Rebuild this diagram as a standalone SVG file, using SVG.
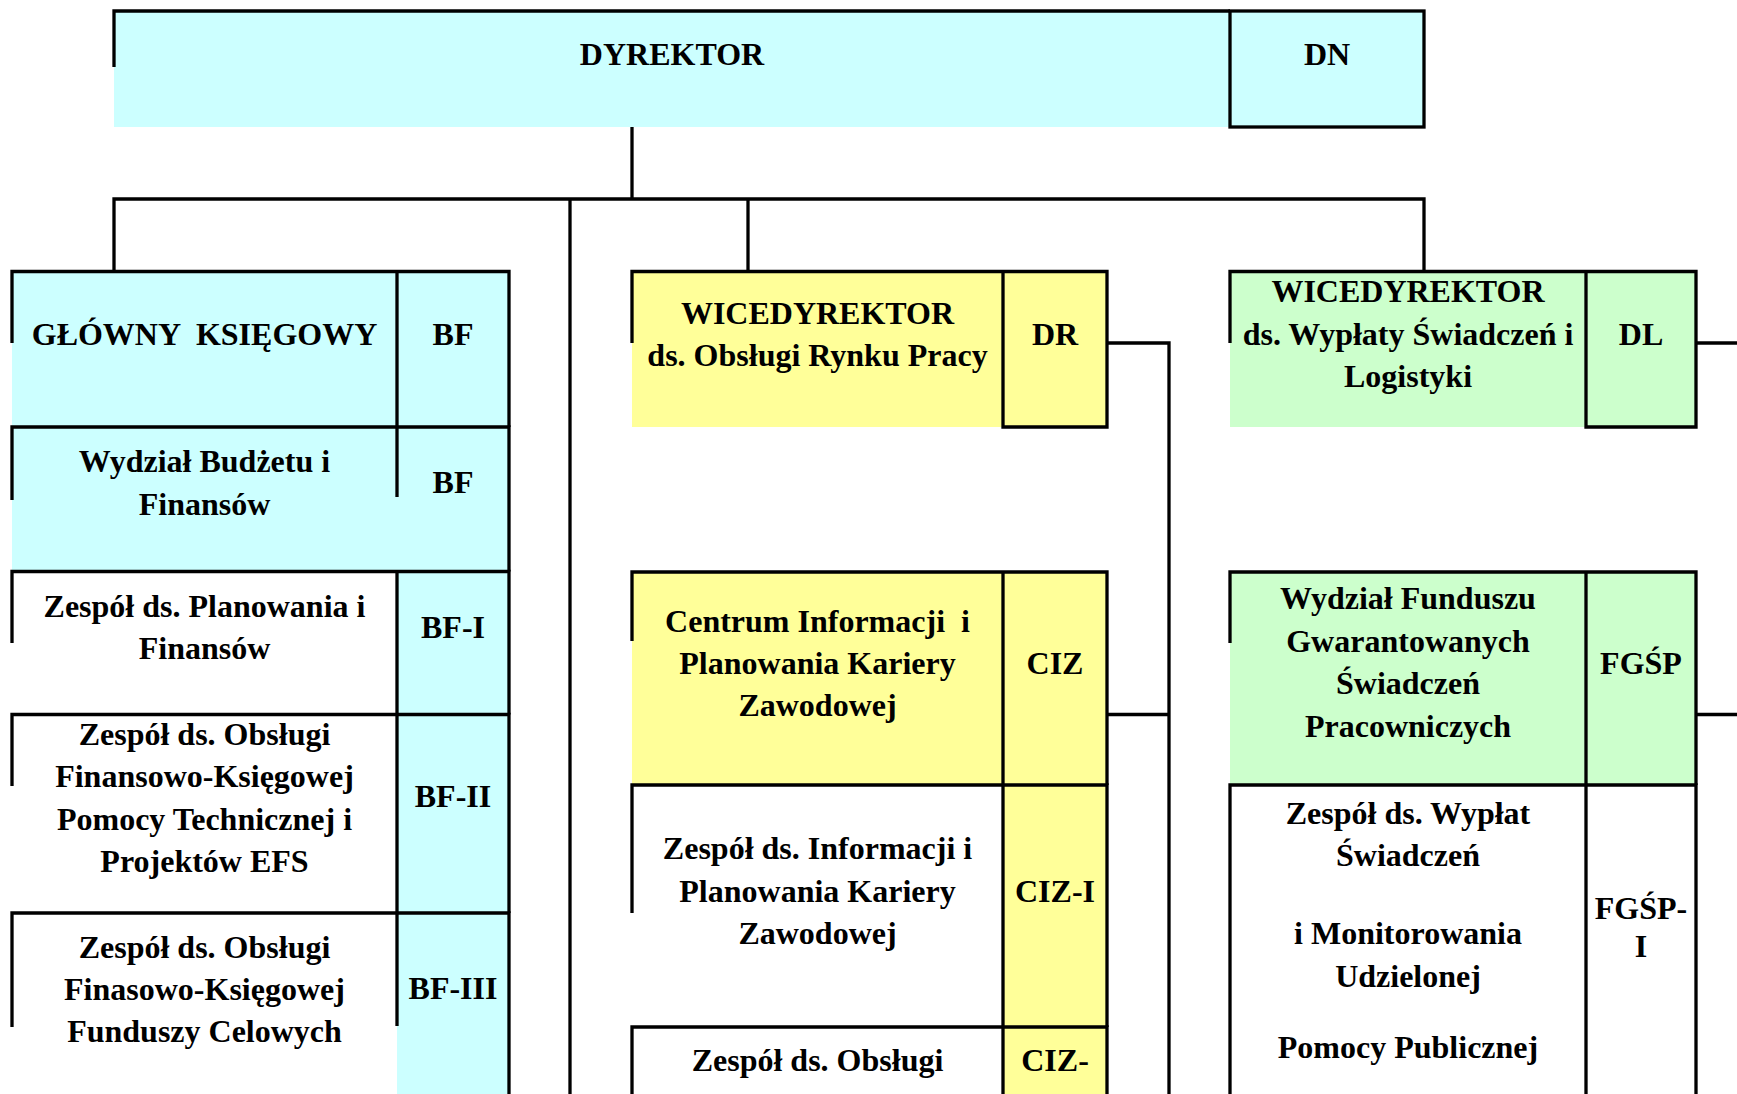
<svg xmlns="http://www.w3.org/2000/svg" width="1737" height="1094" viewBox="0 0 1737 1094">
<style>
.t{font-family:"Liberation Serif","Times New Roman",serif;font-weight:bold;font-size:32px;fill:#000;text-anchor:middle}
.ln{stroke:#000;stroke-width:3.3;fill:none;stroke-linejoin:miter}
.cy{fill:#CCFFFF}
.ye{fill:#FFFF99}
.gr{fill:#CCFFCC}
.wh{fill:#FFFFFF}
</style>
<rect width="1737" height="1094" fill="#FFFFFF"/>

<g id="connectors">
<path class="ln" d="M632 127V199"/>
<path class="ln" d="M114 271V199H1424V271"/>
<path class="ln" d="M570 199V1094"/>
<path class="ln" d="M748 199V271"/>
<path class="ln" d="M1107 343H1169V1094"/>
<path class="ln" d="M1107 714.5H1169"/>
<path class="ln" d="M1696 343H1737"/>
<path class="ln" d="M1696 714.5H1737"/>
</g>

<g id="dyrektor">
<rect class="cy" x="114" y="11" width="1116" height="116"/>
<path class="ln" d="M114 67V11H1230"/>
<text class="t" x="672" y="65">DYREKTOR</text>
</g>
<g id="dn">
<rect class="cy" x="1230" y="11" width="194" height="116"/>
<rect class="ln" x="1230" y="11" width="194" height="116"/>
<text class="t" x="1327" y="65">DN</text>
</g>

<!-- LEFT COLUMN -->
<g id="glowny-ksiegowy">
<rect class="cy" x="12" y="271.5" width="385" height="155.5"/>
<rect class="cy" x="397" y="271.5" width="112" height="155.5"/>
<path class="ln" d="M12 343V271.5H509V427M397 271.5V427"/>
<text class="t" x="204.5" y="345" xml:space="preserve">GŁÓWNY  KSIĘGOWY</text>
<text class="t" x="453" y="345">BF</text>
</g>
<g id="wydzial-budzetu">
<rect class="cy" x="12" y="427" width="385" height="144.5"/>
<rect class="cy" x="397" y="427" width="112" height="144.5"/>
<path class="ln" d="M12 500V427H509V571.5M397 427V497"/>
<text class="t" x="204.5" y="472">Wydział Budżetu i</text>
<text class="t" x="204.5" y="515">Finansów</text>
<text class="t" x="453" y="493">BF</text>
</g>
<g id="zespol-planowania">
<rect class="wh" x="12" y="571.5" width="385" height="143"/>
<rect class="cy" x="397" y="571.5" width="112" height="143"/>
<path class="ln" d="M12 643V571.5H509V714.5M397 571.5V714.5"/>
<text class="t" x="204.5" y="617">Zespół ds. Planowania i</text>
<text class="t" x="204.5" y="659">Finansów</text>
<text class="t" x="453" y="638">BF-I</text>
</g>
<g id="zespol-bf-ii">
<rect class="wh" x="12" y="714.5" width="385" height="198.5"/>
<rect class="cy" x="397" y="714.5" width="112" height="198.5"/>
<path class="ln" d="M12 786V714.5H509V913M397 714.5V913"/>
<text class="t" x="204.5" y="745">Zespół ds. Obsługi</text>
<text class="t" x="204.5" y="787">Finansowo-Księgowej</text>
<text class="t" x="204.5" y="830">Pomocy Technicznej i</text>
<text class="t" x="204.5" y="872">Projektów EFS</text>
<text class="t" x="453" y="807">BF-II</text>
</g>
<g id="zespol-bf-iii">
<rect class="wh" x="12" y="913" width="385" height="181"/>
<rect class="cy" x="397" y="913" width="112" height="181"/>
<path class="ln" d="M12 1027V913H509V1094M397 913V1026"/>
<text class="t" x="204.5" y="958">Zespół ds. Obsługi</text>
<text class="t" x="204.5" y="1000">Finasowo-Księgowej</text>
<text class="t" x="204.5" y="1042">Funduszy Celowych</text>
<text class="t" x="453" y="999">BF-III</text>
</g>

<!-- MIDDLE COLUMN -->
<g id="wicedyrektor-dr">
<rect class="ye" x="632" y="271.5" width="371" height="155.5"/>
<rect class="ye" x="1003" y="271.5" width="104" height="155.5"/>
<path class="ln" d="M632 343V271.5H1107V427H1003V271.5"/>
<text class="t" x="817.5" y="324">WICEDYREKTOR</text>
<text class="t" x="817.5" y="366">ds. Obsługi Rynku Pracy</text>
<text class="t" x="1055" y="345">DR</text>
</g>
<g id="ciz">
<rect class="ye" x="632" y="572" width="371" height="213"/>
<rect class="ye" x="1003" y="572" width="104" height="213"/>
<path class="ln" d="M632 641V572H1107V785M1003 572V785"/>
<text class="t" x="817.5" y="632" xml:space="preserve">Centrum Informacji  i</text>
<text class="t" x="817.5" y="674">Planowania Kariery</text>
<text class="t" x="817.5" y="716">Zawodowej</text>
<text class="t" x="1055" y="674">CIZ</text>
</g>
<g id="ciz-i">
<rect class="wh" x="632" y="785" width="371" height="242"/>
<rect class="ye" x="1003" y="785" width="104" height="242"/>
<path class="ln" d="M632 913V785H1107V1027M1003 785V1027"/>
<text class="t" x="817.5" y="859">Zespół ds. Informacji i</text>
<text class="t" x="817.5" y="902">Planowania Kariery</text>
<text class="t" x="817.5" y="944">Zawodowej</text>
<text class="t" x="1055" y="902">CIZ-I</text>
</g>
<g id="ciz-ii">
<rect class="wh" x="632" y="1027" width="371" height="67"/>
<rect class="ye" x="1003" y="1027" width="104" height="67"/>
<path class="ln" d="M632 1094V1027H1107V1094M1003 1027V1094"/>
<text class="t" x="817.5" y="1071">Zespół ds. Obsługi</text>
<text class="t" x="1055" y="1071">CIZ-</text>
</g>

<!-- RIGHT COLUMN -->
<g id="wicedyrektor-dl">
<rect class="gr" x="1230" y="271.5" width="356" height="155.5"/>
<rect class="gr" x="1586" y="271.5" width="110" height="155.5"/>
<path class="ln" d="M1230 343V271.5H1696V427H1586V271.5"/>
<text class="t" x="1408" y="301.5">WICEDYREKTOR</text>
<text class="t" x="1408" y="344.5">ds. Wypłaty Świadczeń i</text>
<text class="t" x="1408" y="387">Logistyki</text>
<text class="t" x="1641" y="345">DL</text>
</g>
<g id="fgsp">
<rect class="gr" x="1230" y="572" width="356" height="213"/>
<rect class="gr" x="1586" y="572" width="110" height="213"/>
<path class="ln" d="M1230 643V572H1696V785M1586 572V785"/>
<text class="t" x="1408" y="609">Wydział Funduszu</text>
<text class="t" x="1408" y="652">Gwarantowanych</text>
<text class="t" x="1408" y="694">Świadczeń</text>
<text class="t" x="1408" y="737">Pracowniczych</text>
<text class="t" x="1641" y="674">FGŚP</text>
</g>
<g id="fgsp-i">
<rect class="wh" x="1230" y="785" width="356" height="309"/>
<rect class="wh" x="1586" y="785" width="110" height="309"/>
<path class="ln" d="M1230 1094V785H1696V1094M1586 785V1094"/>
<text class="t" x="1408" y="824">Zespół ds. Wypłat</text>
<text class="t" x="1408" y="866">Świadczeń</text>
<text class="t" x="1408" y="944">i Monitorowania</text>
<text class="t" x="1408" y="987">Udzielonej</text>
<text class="t" x="1408" y="1058">Pomocy Publicznej</text>
<text class="t" x="1641" y="919">FGŚP-</text>
<text class="t" x="1641" y="957">I</text>
</g>
</svg>
